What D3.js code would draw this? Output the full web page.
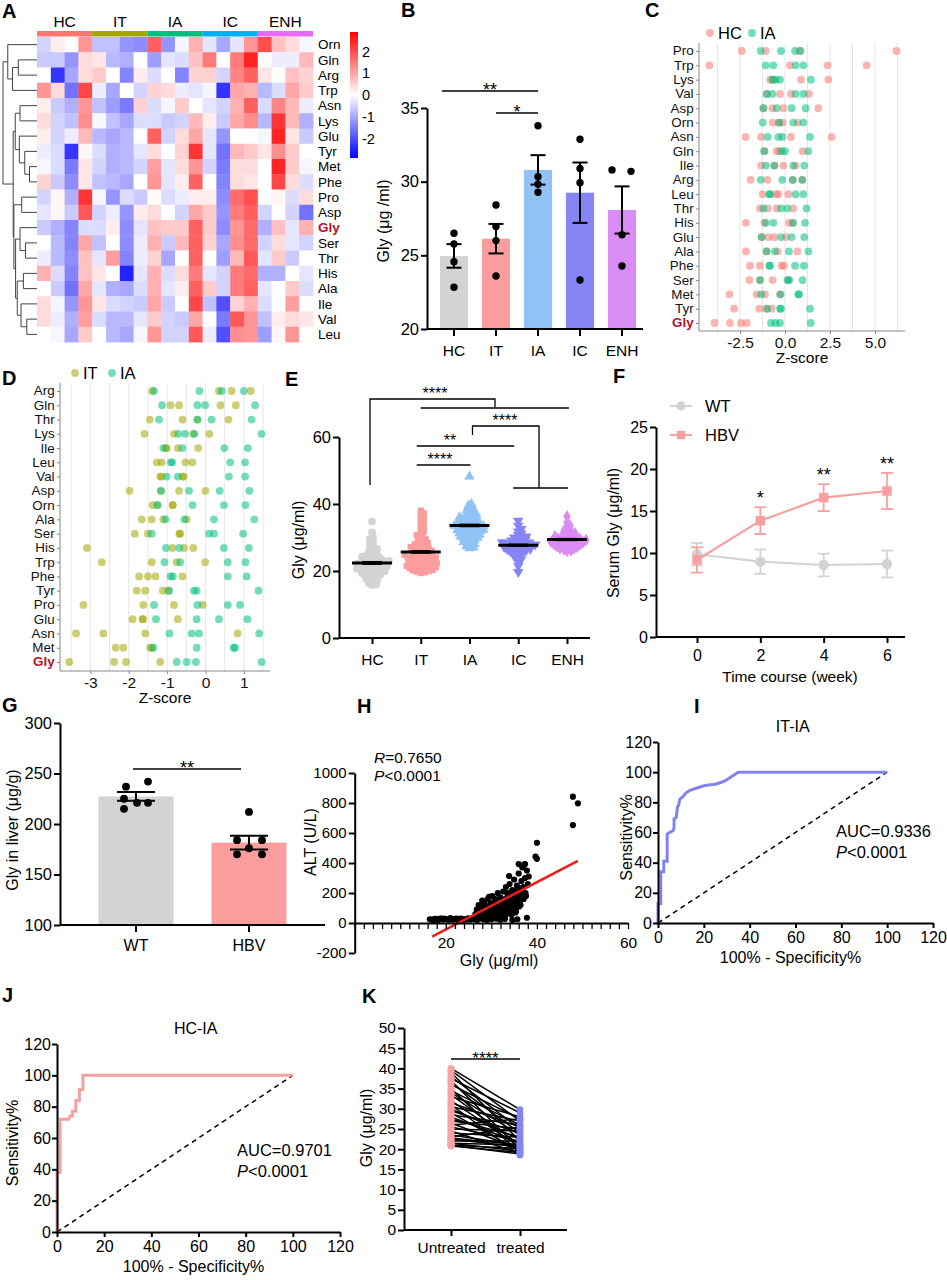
<!DOCTYPE html>
<html>
<head>
<meta charset="utf-8">
<script src="https://cdn.jsdelivr.net/npm/d3@7"></script>
<style>
body { margin: 0; background: #fff; }
svg { font-family: "Liberation Sans", Arial, Helvetica, sans-serif; }
</style>
</head>
<body>
<svg width="947" height="1280"></svg>
<script>
// ---------------- DATA ----------------
var groups = ['HC', 'IT', 'IA', 'IC', 'ENH'];
var groupColors = ['#d3d3d3', '#fb9d9d', '#90c2f6', '#8585f5', '#d98cf3'];
var annoColors = ['#F8766D', '#A3A500', '#00BF7D', '#00B0F6', '#E76BF3'];

// A heatmap
var hmRows = ['Orn','Gln','Arg','Trp','Asn','Lys','Glu','Tyr','Met','Phe','Pro','Asp','Gly','Ser','Thr','His','Ala','Ile','Val','Leu'];
var hmValues = [
  [-0.5,0.2,0,1.2,-0.7,-0.7,-1.2,-1.3,1.8,-1.2,-0.1,0.9,-0.3,-1.0,-0.3,1.2,2.0,0.7,0.4,-0.1],
  [-0.6,-0.6,-1.2,0.4,0.3,-0.8,-0.9,0,-1.1,-0.3,-0.4,0.7,1.5,0,1.5,2.5,0,-0.2,-0.2,0.8],
  [0,-2.3,-1.0,0.4,0.6,0,-1.4,0.2,-0.4,0,-1.4,0.5,0.5,-0.5,1.4,1.8,0.3,0,0.7,0.5],
  [1.2,0.4,-1.6,2.1,-0.2,-1.0,0,-0.5,0.5,0.4,-0.2,-0.3,-0.1,-2.3,1.0,0.9,-0.8,-0.4,1.0,0.6],
  [0.2,-0.6,-0.9,1.2,-0.7,-1.1,-1.5,0.5,-0.4,-0.1,0.6,0,-0.3,-0.5,0.9,1.8,-0.4,1.4,0.8,-0.2],
  [0.4,-0.5,-0.7,1.3,-0.1,-0.7,-1.0,-0.4,-0.4,-0.6,-0.5,0.8,0.2,-0.6,1.0,1.3,-0.8,2.3,0.8,-0.9],
  [0.2,-0.5,-0.2,0.8,-0.8,-1.0,-0.8,0,1.8,-0.5,0.4,1.0,-0.3,-1.2,0,0,-0.1,2.5,0.3,-0.6],
  [-0.2,-0.4,-2.3,0.1,-0.4,-0.9,-0.8,-0.3,0.4,0,0.5,2.3,-0.3,-1.6,0.8,0.6,0.3,1.3,0.6,0],
  [-0.1,-0.4,-1.5,0.3,-0.5,-0.9,-0.8,-0.5,1.1,-0.3,0.4,1.2,-0.5,-1.5,0.4,0.4,0,2.5,0.6,-0.1],
  [0.5,-0.6,-1.3,0.3,-0.7,-0.8,-1.0,0,1.2,-0.3,0.2,1.8,0,-1.4,0.4,0.3,0,2.1,0.4,-0.4],
  [-0.5,0.1,-0.9,2.3,-0.1,-1.2,-0.4,-0.6,0.05,-0.4,-0.2,0.2,0.2,-1.3,1.7,2.0,0,0.1,-0.4,0.4],
  [-0.3,0.1,-0.6,1.9,-0.5,-0.2,-1.2,0.2,0.4,0,-0.5,1.0,0.6,-1.2,1.5,1.8,-0.5,0,-0.5,-1.6],
  [-0.6,-0.9,-1.4,-0.4,-0.4,0.2,-1.3,-0.3,0.7,0.6,0.6,1.8,0.6,-1.3,1.2,1.7,-0.9,0.7,-0.3,0.9],
  [0,-0.8,-1.4,1.0,-0.7,0,-1.3,-0.2,0.9,-0.6,0.8,1.8,0.5,-1.0,1.3,1.7,-0.5,0.4,-0.3,-0.5],
  [-0.2,-0.8,-1.3,0.7,-0.3,1.1,-1.4,-0.2,0.5,-1.0,0,1.8,0,-1.1,0.8,1.9,-0.3,0.6,-0.6,0],
  [0.9,-0.4,-1.4,0.7,0.3,0,-2.5,-0.3,0.9,-0.4,0.4,1.5,-0.3,-0.5,1.5,1.7,-0.9,-0.9,0,-0.3],
  [0,-0.6,-1.6,1.0,-0.3,-0.9,-1.0,-0.4,0.9,-0.3,0.2,1.8,0.6,-0.5,1.5,1.8,-0.3,0,0.6,-0.4],
  [0.4,-0.1,-1.2,1.2,0.3,-0.4,-0.5,-0.6,1.0,-0.6,0,2.1,-0.7,-2.0,0.5,0.9,-0.4,0,1.1,0],
  [0.4,-0.2,-0.9,1.1,-0.4,-0.8,-0.8,-0.3,0.6,-0.5,-0.6,1.0,0,-1.5,1.9,1.2,-0.7,0.2,0.4,0.3],
  [0,-0.1,-1.0,0.6,0,-0.8,-1.0,-0.1,1.2,-0.5,-0.5,1.9,-0.2,-2.0,1.3,1.2,-1.1,0.1,1.2,0]
];
var legendTicks = [2, 1, 0, -1, -2];
// row dendrogram (merge heights 0..1)
var dendro = {h: 1, children: [
  {h: 0.86, children: [{name: 'Orn'}, {h: 0.72, children: [{h: 0.55, children: [{name: 'Gln'}, {name: 'Arg'}]}, {name: 'Trp'}]}]},
  {h: 0.7, children: [
    {h: 0.64, children: [{h: 0.5, children: [{name: 'Asn'}, {name: 'Lys'}]},
      {h: 0.52, children: [{name: 'Glu'}, {h: 0.36, children: [{name: 'Tyr'}, {h: 0.22, children: [{name: 'Met'}, {name: 'Phe'}]}]}]}]},
    {h: 0.68, children: [{h: 0.45, children: [{name: 'Pro'}, {name: 'Asp'}]},
      {h: 0.63, children: [{h: 0.5, children: [{name: 'Gly'}, {h: 0.34, children: [{name: 'Ser'}, {name: 'Thr'}]}]},
        {h: 0.58, children: [{h: 0.4, children: [{name: 'His'}, {name: 'Ala'}]},
          {h: 0.47, children: [{name: 'Ile'}, {h: 0.3, children: [{name: 'Val'}, {name: 'Leu'}]}]}]}]}]}
  ]}
]};

// B bars
var bMeans = [24.96, 26.13, 30.8, 29.25, 28.08];
var bSem = [0.8, 1.0, 1.0, 2.05, 1.6];
var bPoints = [[26.5, 25.77, 24.57, 22.83], [28.42, 26.95, 26.0, 23.6], [33.8, 30.34, 29.82, 29.28], [32.88, 30.9, 29.93, 23.33], [30.8, 30.7, 26.4, 24.28]];
var bOffsets = [[0, 0, 0, 0], [0, 0, 0, 0], [0, 0, 0, 0], [0, 0, 0, 0], [-10, 9, 0, 0]];

// C dot plot HC vs IA
var cRows = ['Pro','Trp','Lys','Val','Asp','Orn','Asn','Gln','Ile','Arg','Leu','Thr','His','Glu','Ala','Phe','Ser','Met','Tyr','Gly'];
var cHC = [
  [-2.4,-1.07,0.8,6.2],[-4.2,0.28,2.37,4.54],[-0.83,-0.65,0.89,2.41],[-1.0,-0.28,0.33,1.33],[-1.2,-0.7,-0.09,1.85],
  [-0.69,-0.37,-0.13,0.7],[-2.19,-1.33,0.33,2.59],[-1.15,-0.46,-0.31,0.98],[-1.33,-0.59,-0.09,0.59],[-1.91,-0.98,0.43,0.96],
  [-1.24,-0.5,-0.37,0.19],[-1.39,-0.96,-0.46,0.46],[-2.17,-1.15,0.22,0.41],[-1.3,-0.93,-0.59,0.06],[-2.17,-1.02,-0.41,0.69],
  [-1.94,-1.39,-0.19,-0.06],[-1.98,-1.39,-0.69,0.19],[-3.09,-1.57,-1.11,-0.28],[-2.83,-1.43,-1.07,-0.74],[-3.92,-3.06,-2.44,-2.13]
];
var cIA = [
  [-1.35,-0.22,0.56,0.87],[-1.07,-0.65,0.59,1.02],[-0.7,-0.52,-0.28,1.44],[-1.02,-0.7,0.59,1.02],[-1.2,-0.46,0.37,1.15],
  [-1.24,-0.31,0.46,1.02],[-0.96,-0.37,-0.15,1.39],[-1.15,-0.19,0,1.3],[-1.06,-0.59,0.46,1.07],[-1.35,-0.15,0.43,0.96],
  [-0.87,-0.83,0.59,1.02],[-1.2,-0.22,0.13,1.2],[-1.06,-0.65,0.46,1.11],[-1.3,-0.22,0.37,1.07],[-1.02,-0.56,0.22,1.3],
  [-0.87,-0.83,0.56,1.05],[-1.39,0.13,0.24,0.98],[-1.33,-0.24,0.74,0.78],[-0.98,-0.28,-0.22,1.39],[-0.78,-0.52,-0.28,1.43]
];
var cTicks = [-2.5, 0, 2.5, 5];

// D dot plot IT vs IA
var dRows = ['Arg','Gln','Thr','Lys','Ile','Leu','Val','Asp','Orn','Ala','Ser','His','Trp','Phe','Tyr','Pro','Glu','Asn','Met','Gly'];
var dIT = [
  [-1.39,0.35,0.68,1.18],[-0.91,-0.69,0.39,0.79],[-1.45,-0.6,-0.21,0.6],[-1.59,-0.82,-0.32,0.1],[-1.03,-1.01,-0.72,-0.19],
  [-1.27,-1.14,-0.52,-0.34],[-1.18,-1.14,-0.6,-0.57],[-1.98,-1.16,-0.69,0],[-1.38,-1.25,-0.86,-0.85],[-1.66,-1.4,-1.1,-0.49],
  [-1.84,-1.5,-0.68,-0.66],[-3.09,-0.86,-0.56,-0.32],[-2.7,-1.4,-0.75,-0.01],[-1.73,-1.5,-1.3,-0.6],[-1.79,-1.57,-1.11,-0.97],
  [-3.18,-1.62,-0.82,-0.07],[-1.9,-1.64,-1.63,-0.72],[-3.37,-2.66,-1.57,0.84],[-2.34,-2.14,-1.44,-1.4],[-3.55,-2.38,-2.07,-1.18]
];
var dIA = [
  [-1.34,-0.16,0.42,1.0],[-1.13,-0.21,-0.01,1.29],[-1.21,-0.21,0.16,1.2],[-0.71,-0.53,-0.29,1.46],[-1.1,-0.6,0.49,1.1],
  [-0.9,-0.87,0.64,1.03],[-1.01,-0.72,0.61,1.03],[-1.16,-0.43,0.37,1.14],[-1.25,-0.34,0.48,1.04],[-1.04,-0.55,0.22,1.27],
  [-1.4,0.09,0.22,0.98],[-1.03,-0.68,0.48,1.13],[-1.07,-0.66,0.58,1.04],[-0.91,-0.85,0.58,1.07],[-0.95,-0.3,-0.23,1.38],
  [-1.34,-0.21,0.58,0.9],[-1.29,-0.23,0.35,1.09],[-0.94,-0.36,-0.17,1.4],[-1.36,-0.23,0.73,0.77],[-0.75,-0.49,-0.25,1.46]
];
var dTicks = [-3, -2, -1, 0, 1];

// E scatter (individual patients)
var eHC = [34.8,31.5,30.2,29.5,28.8,28.1,27.5,27,26.6,26.2,25.8,25.4,25.1,24.8,24.5,24.2,24,23.7,23.5,23.3,23.1,22.9,22.7,22.5,22.3,22.1,22,21.8,21.6,21.5,21.3,21.1,21,20.8,20.6,20.5,20.3,20.1,20,19.8,19.6,19.5,19.3,19.1,18.9,18.7,18.5,18.2,18,17.7,17.4,17.1,16.8,16.4,16,15.8,22.4,23,21.9,20.7,24.3,22.6,21.2,19.9];
var eIT = [38,37.2,36.5,35.8,35,34.3,33.6,33,32.4,31.8,31.2,30.7,30.2,29.8,29.4,29,28.6,28.3,28,27.7,27.4,27.1,26.8,26.6,26.4,26.2,26,25.8,25.6,25.4,25.2,25,24.8,24.6,24.4,24.2,24,23.8,23.6,23.4,23.2,23,22.8,22.6,22.4,22.2,22,21.8,21.6,21.4,21.2,21,20.8,20.6,20.4,20.2,20,19.8,19.6,19.4,25.1,24.7,23.9,22.9,22.3,21.5,20.9,20.3,26.9,27.9,24.1,23.3,22.1,21.1];
var eIA = [48.2,40,39.5,39,38.5,38,37.6,37.2,36.8,36.5,36.2,35.9,35.6,35.3,35,34.8,34.5,34.3,34.1,33.9,33.7,33.5,33.3,33.1,32.9,32.7,32.5,32.3,32.1,31.9,31.7,31.5,31.3,31.1,30.9,30.7,30.5,30.3,30.1,29.9,29.6,29.3,29,28.7,28.4,28.1,27.8,27.4,27,26.8,34,33.2,32.6,31.8,35.4,36,30.8,29.8,33.4,32.2];
var eIC = [35,33.5,32.5,31.8,31.2,30.7,30.3,29.9,29.6,29.3,29,28.8,28.6,28.4,28.2,28,27.8,27.6,27.4,27.2,27,26.8,26.6,26.4,26.2,26,25.7,25.4,25.1,24.8,24.4,24,23.5,22.8,21.5,19.7,27.9,27.5,28.1,26.9,28.5,27.1,29.1,26.5,30,25.9];
var eENH = [36.3,34.5,33.6,33,32.5,32,31.6,31.2,30.9,30.6,30.3,30,29.8,29.6,29.4,29.2,29,28.8,28.6,28.4,28.2,28,27.8,27.6,27.4,27.2,27,26.8,26.5,26.2,26,29.5,29.1,28.7,28.3,27.9,30.1,29.3,28.9,28.5,31,27.5,26.7];
var eMeans = [22.4, 25.7, 33.6, 27.7, 29.4];
var eSem = [0.6, 0.55, 0.55, 0.5, 0.5];

// F time course
var fWeeks = [0, 2, 4, 6];
var fWtMean = [9.85, 8.97, 8.57, 8.69];
var fWtSem = [1.35, 1.45, 1.35, 1.6];
var fHbvMean = [9.17, 13.85, 16.59, 17.38];
var fHbvSem = [1.5, 1.6, 1.6, 2.15];
var fStars = ['', '*', '**', '**'];

// G liver Gly
var gGroups = ['WT', 'HBV'];
var gMeans = [227.3, 181.6];
var gSem = [4.3, 6.8];
var gPoints = [[242, 237, 225, 221, 221, 215], [212, 184, 184, 176, 170, 170]];
var gOffsets = [[12, -10, -12, 1, 12, -12], [0, -12, 13, 0, -12, 13]];

// H correlation ALT vs Gly
var hGly = [16.5,17,17.6,18.2,18.8,19.4,20,20.5,21,21.6,22.1,22.7,23.2,23.8,24.3,24.9,25.4,26,26.5,27,17.3,19,20.8,22.4,24,25.7,
  26.5,26.8,27,27.2,27.4,27.6,27.8,28,28.2,28.4,28.6,28.8,29,29.2,29.4,29.6,29.8,30,30.2,30.4,30.6,30.8,31,31.2,31.4,31.6,31.8,32,32.2,32.4,32.6,32.8,33,33.2,33.4,33.6,33.8,34,34.2,34.4,34.6,34.8,35,35.2,35.4,35.6,35.8,36,36.2,36.4,36.6,36.8,37,37.2,37.4,37.6,37.8,38,38.2,
  29,30,31,32,33,34.6,35.7,37.8,28,29.5,30.5,31.5,32.5,33.5,34.5,35.5,36.5,37.5,27.5,28.5,29.5,30.5,31.5,32.5,33.5,34.5,35.5,36.5,33.9,36,37.4,
  28.9,30.3,31.7,32.9,34.1,35.1,36.1,29.7,31.1,32.3,33.1,34.3,
  27.1,27.9,28.3,28.7,29.3,29.9,30.1,30.7,31.3,31.9,32.1,32.7,33.3,33.7,34.4,34.9,35.3,35.9,36.3,36.9,
  27.3,28.1,28.9,29.6,30.4,31.2,31.6,32.4,33.2,33.9,34.7,35.4,36.7,37.1,26.9,27.7,28.5,29.1,30.9,31.8,
  17.9,18.5,19.7,21.3,22.9,23.5,25.1,26.2,
  40,39.7,40,47.9,49,47.9];
var hAlt = [25,22,28,20,30,24,26,21,32,23,27,19,29,25,22,31,24,27,33,35,18,29,24,30,21,26,
  60,90,45,120,75,30,100,55,140,80,40,110,65,160,95,35,130,70,180,50,115,85,150,40,200,100,60,170,125,45,210,90,140,240,70,180,110,260,150,55,220,130,290,190,80,250,160,330,210,120,280,370,240,390,300,180,350,260,310,
  20,25,30,22,28,20,25,35,150,60,140,80,155,95,190,140,230,200,85,125,175,100,120,75,200,100,220,170,313,393,393,
  45,60,85,50,75,95,110,30,40,120,160,205,
  35,70,25,55,85,45,105,65,30,95,55,130,60,165,90,115,70,200,145,180,
  50,110,40,75,135,60,90,115,80,125,170,110,205,160,20,40,65,100,160,85,
  27,23,29,26,22,28,25,30,
  535,442,428,842,798,653];
var hRegSlope = 15.8, hRegIntercept = -360, hRegRange = [17, 49];

// I, J ROC curves
var iFpr = [0,0,1.2,1.2,2.5,2.5,4,4,5,6.5,7,7,8,8.5,9,9.5,11,12,13,14,16,18,20,22,25,27,29,30,32,34,35,100];
var iTpr = [0,13,13,34,34,41,41,59,60,61,63,69,70,77,78,82,84,86,87,88,89,90,91,91.5,92,93,94,95,97,99,100,100];
var jFpr = [0,0,1.3,1.3,5,5.5,6.5,6.5,8,8,9.5,9.5,11,11,100];
var jTpr = [0,38,38,72,72,74,74,77,77,84,84,91,91,100,100];
var rocTicks = [0, 20, 40, 60, 80, 100, 120];

// K paired samples
var kGroups = ['Untreated', 'treated'];
var kUntreated = [40,39.5,39,38,37.5,37,36.5,36,35,34.5,34,33.5,33,32,31.5,31,30.5,30,29.5,29,28.5,28,27.5,27,26.5,26,25.5,25,24.5,24,23.5,23,22.5,22,21.5,21.5,21,21,20.8,22.8];
var kTreated = [29.8,27,22,25,29,20,24,27.5,19,26,23.5,21,28,20.5,25.5,18.5,27,22.5,24,19.5,26,21.5,23,25,20,27.5,22,24.5,19,23,21,25.5,20.5,22,19.5,21,18.8,20.2,19.2,21];

// ---------------- HELPERS ----------------
var svg = d3.select('svg');

function panelLetter(t, x, y) {
  svg.append('text').attr('x', x).attr('y', y).attr('font-size', 20).attr('font-weight', 'bold').text(t);
}
function gpStyle(g, fs) {
  g.selectAll('.domain').attr('stroke', '#000').attr('stroke-width', 2);
  g.selectAll('.tick line').attr('stroke', '#000').attr('stroke-width', 2);
  g.selectAll('.tick text').attr('font-size', fs || 15).attr('fill', '#000').attr('font-family', null);
  return g;
}
function vLabel(t, x, y, fs) {
  svg.append('text').attr('transform', 'translate(' + x + ',' + y + ') rotate(-90)')
    .attr('text-anchor', 'middle').attr('dy', '0.35em').attr('font-size', fs || 15.5).text(t);
}
function hText(t, x, y, fs, anchor) {
  return svg.append('text').attr('x', x).attr('y', y).attr('text-anchor', anchor || 'middle')
    .attr('font-size', fs || 15.5).text(t);
}
function errBar(g, x, y1, y2, cap, w) {
  g.append('line').attr('x1', x).attr('x2', x).attr('y1', y1).attr('y2', y2).attr('stroke', '#000').attr('stroke-width', w || 2);
  [y1, y2].forEach(function(yy) {
    g.append('line').attr('x1', x - cap / 2).attr('x2', x + cap / 2).attr('y1', yy).attr('y2', yy).attr('stroke', '#000').attr('stroke-width', w || 2);
  });
}
function sigLine(x1, x2, y, txt, fs) {
  svg.append('line').attr('x1', x1).attr('x2', x2).attr('y1', y).attr('y2', y).attr('stroke', '#000').attr('stroke-width', 1.5);
  hText(txt, (x1 + x2) / 2, y + 5, fs || 18);
}

// ---------------- A: HEATMAP ----------------
var hmX = d3.scaleBand().domain(d3.range(20)).range([37, 313]);
var hmY = d3.scaleBand().domain(hmRows).range([37, 342]);
var hmColor = d3.scaleLinear().domain([-2.9, 0, 2.9]).range(['#0000ff', '#ffffff', '#ff0000']);

var gA = svg.append('g');
hmValues.forEach(function(row, ri) {
  gA.selectAll(null).data(row).enter().append('rect')
    .attr('x', function(d, ci) { return hmX(ci); })
    .attr('y', hmY(hmRows[ri]))
    .attr('width', hmX.bandwidth() + 0.4)
    .attr('height', hmY.bandwidth() + 0.4)
    .attr('fill', function(d) { return hmColor(d); });
});
groups.forEach(function(gname, gi) {
  var x0 = hmX(gi * 4), x1 = hmX(gi * 4 + 3) + hmX.bandwidth();
  gA.append('rect').attr('x', x0).attr('y', 31).attr('width', x1 - x0).attr('height', 5.5).attr('fill', annoColors[gi]);
  gA.append('text').attr('x', (x0 + x1) / 2).attr('y', 27).attr('text-anchor', 'middle').attr('font-size', 15.5).text(gname);
});
gA.selectAll('.rowlab').data(hmRows).enter().append('text')
  .attr('x', 318).attr('y', function(d) { return hmY(d) + hmY.bandwidth() / 2; })
  .attr('dy', '0.36em').attr('font-size', 13.5)
  .attr('fill', function(d) { return d === 'Gly' ? '#b5122a' : '#000'; })
  .attr('font-weight', function(d) { return d === 'Gly' ? 'bold' : 'normal'; })
  .text(function(d) { return d; });
// dendrogram
var root = d3.hierarchy(dendro);
var dX = d3.scaleLinear().domain([0, 1]).range([37, 3]);
root.eachAfter(function(n) {
  if (!n.children) { n.py = hmY(n.data.name) + hmY.bandwidth() / 2; n.ph = 0; }
  else { n.py = (n.children[0].py + n.children[n.children.length - 1].py) / 2; n.ph = n.data.h; }
});
root.each(function(n) {
  if (!n.children) return;
  gA.append('line').attr('x1', dX(n.ph)).attr('x2', dX(n.ph))
    .attr('y1', n.children[0].py).attr('y2', n.children[n.children.length - 1].py)
    .attr('stroke', '#444').attr('stroke-width', 1);
  n.children.forEach(function(c) {
    gA.append('line').attr('x1', dX(n.ph)).attr('x2', dX(c.ph)).attr('y1', c.py).attr('y2', c.py)
      .attr('stroke', '#444').attr('stroke-width', 1);
  });
});
// colour legend
var defs = svg.append('defs');
var grad = defs.append('linearGradient').attr('id', 'hmgrad').attr('x1', 0).attr('x2', 0).attr('y1', 1).attr('y2', 0);
[-2.9, 0, 2.9].forEach(function(v, i) {
  grad.append('stop').attr('offset', (i * 50) + '%').attr('stop-color', hmColor(v));
});
var legY = d3.scaleLinear().domain([-2.9, 2.9]).range([158, 32]);
gA.append('rect').attr('x', 350).attr('y', 32).attr('width', 8).attr('height', 126).attr('fill', 'url(#hmgrad)');
gA.selectAll('.legt').data(legendTicks).enter().append('text')
  .attr('x', 362).attr('y', function(d) { return legY(d); }).attr('dy', '0.36em').attr('font-size', 14.5)
  .text(function(d) { return String(d); });
panelLetter('A', 2, 18);

// ---------------- B: BARS ----------------
var bX = d3.scaleBand().domain(groups).range([433, 643]).paddingInner(0.33).paddingOuter(0.165);
var bY = d3.scaleLinear().domain([20, 35]).range([329, 108]);
var gB = svg.append('g');
gB.selectAll('.bar').data(bMeans).enter().append('rect')
  .attr('x', function(d, i) { return bX(groups[i]); })
  .attr('y', function(d) { return bY(d); })
  .attr('width', bX.bandwidth())
  .attr('height', function(d) { return bY(20) - bY(d); })
  .attr('fill', function(d, i) { return groupColors[i]; });
bMeans.forEach(function(m, i) {
  var cx = bX(groups[i]) + bX.bandwidth() / 2;
  errBar(gB, cx, bY(m + bSem[i]), bY(m - bSem[i]), 15, 2);
  bPoints[i].forEach(function(v, j) {
    gB.append('circle').attr('cx', cx + bOffsets[i][j]).attr('cy', bY(v)).attr('r', 3.7).attr('fill', '#000');
  });
});
var bAxY = svg.append('g').attr('transform', 'translate(427,0)')
  .call(d3.axisLeft(bY).tickValues([20, 25, 30, 35]).tickSize(6).tickSizeOuter(0).tickPadding(2));
gpStyle(bAxY, 16.5);
var bAxX = svg.append('g').attr('transform', 'translate(0,329)')
  .call(d3.axisBottom(bX).tickSize(7).tickSizeOuter(0).tickPadding(9));
gpStyle(bAxX, 15.5);
bAxX.select('.domain').attr('d', 'M427,0H643');
vLabel('Gly (μg /ml)', 383, 221, 16);
sigLine(bX('HC') + 2, bX('IA') + bX.bandwidth() / 2, 91, '**');
sigLine(bX('IT') + bX.bandwidth() / 2, bX('IA') + bX.bandwidth() / 2, 113, '*');
panelLetter('B', 401, 17);

// ---------------- C / D: DOT PLOTS ----------------
function dotPlot(opt) {
  var g = svg.append('g');
  var x = d3.scaleLinear().domain(opt.xdom).range(opt.xr);
  var y = d3.scalePoint().domain(opt.rows).range(opt.yr);
  var gl = [];
  for (var v = Math.ceil(opt.xdom[0] / opt.minor) * opt.minor; v <= opt.xdom[1]; v += opt.minor) gl.push(v);
  g.selectAll('.grid').data(gl).enter().append('line')
    .attr('x1', function(d) { return x(d); }).attr('x2', function(d) { return x(d); })
    .attr('y1', opt.top).attr('y2', opt.axisY).attr('stroke', '#e6e6e6').attr('stroke-width', 1);
  var ax = g.append('g').attr('transform', 'translate(0,' + opt.axisY + ')')
    .call(d3.axisBottom(x).tickValues(opt.ticks).tickSize(3).tickSizeOuter(0).tickPadding(3).tickFormat(opt.fmt));
  ax.selectAll('.domain, .tick line').attr('stroke', '#888');
  ax.selectAll('.tick text').attr('font-size', 15.5).attr('fill', '#111').attr('font-family', null);
  ax.select('.domain').attr('d', 'M' + opt.xr[0] + ',0H' + opt.xr[1]);
  var ay = g.append('g').attr('transform', 'translate(' + opt.xr[0] + ',0)')
    .call(d3.axisLeft(y).tickSize(3).tickSizeOuter(0).tickPadding(2));
  ay.select('.domain').attr('d', 'M0,' + opt.top + 'V' + opt.axisY);
  ay.selectAll('.domain, .tick line').attr('stroke', '#888');
  ay.selectAll('.tick text').attr('font-size', 12.4).attr('font-family', null)
    .attr('transform', 'scale(1.08,1)')
    .attr('fill', function(d) { return d === 'Gly' ? '#b5122a' : '#111'; })
    .attr('font-weight', function(d) { return d === 'Gly' ? 'bold' : 'normal'; });
  [opt.a, opt.b].forEach(function(set, si) {
    set.forEach(function(vals, ri) {
      g.selectAll(null).data(vals).enter().append('circle')
        .attr('cx', function(d) { return x(d); }).attr('cy', y(opt.rows[ri])).attr('r', 3.9)
        .attr('fill', opt.colors[si]).attr('fill-opacity', 0.55);
    });
  });
  hText('Z-score', (opt.xr[0] + opt.xr[1]) / 2, opt.axisY + 32, 15.5);
  opt.legend.forEach(function(l, i) {
    g.append('circle').attr('cx', l.x).attr('cy', opt.legY).attr('r', 3.9).attr('fill', opt.colors[i]).attr('fill-opacity', 0.55);
    g.append('text').attr('x', l.x + 8).attr('y', opt.legY).attr('dy', '0.36em').attr('font-size', 16.5).text(l.t);
  });
}
dotPlot({rows: cRows, a: cHC, b: cIA, colors: ['#F8766D', '#00BF7D'], xdom: [-4.78, 6.67], xr: [699, 905],
  yr: [51, 323], top: 43, axisY: 331, ticks: cTicks, minor: 1.25, fmt: function(d) { return d.toFixed(1); },
  legend: [{x: 710, t: 'HC'}, {x: 752, t: 'IA'}], legY: 33});
panelLetter('C', 645, 17);

dotPlot({rows: dRows, a: dIT, b: dIA, colors: ['#A3A500', '#00BF7D'], xdom: [-3.79, 1.68], xr: [60, 270],
  yr: [391, 662], top: 383, axisY: 671, ticks: dTicks, minor: 0.5, fmt: function(d) { return String(d); },
  legend: [{x: 75, t: 'IT'}, {x: 112, t: 'IA'}], legY: 373});
panelLetter('D', 2, 385);

// ---------------- E: SCATTER ----------------
var eX = d3.scalePoint().domain(groups).range([372, 567]);
var eY = d3.scaleLinear().domain([0, 60]).range([638, 437]);
var eSets = [eHC, eIT, eIA, eIC, eENH];
var eShapes = [d3.symbolCircle, d3.symbolSquare, d3.symbolTriangle, d3.symbolTriangle, d3.symbolDiamond];
var gE = svg.append('g');
function swarm(vals, cx, d) {
  var pts = vals.map(function(v) { return {v: v, y: eY(v)}; }).sort(function(a, b) { return a.v - b.v; });
  var placed = [];
  pts.forEach(function(p) {
    for (var k = 0; k < 200; k++) {
      var off = k === 0 ? 0 : (k % 2 ? 1 : -1) * Math.ceil(k / 2);
      var ok = placed.every(function(q) { var dx = q.x - (cx + off), dy = q.y - p.y; return dx * dx + dy * dy >= d * d; });
      if (ok) { p.x = cx + off; placed.push(p); break; }
    }
  });
  return placed;
}
eSets.forEach(function(vals, i) {
  var pts = swarm(vals, eX(groups[i]), 3.4);
  gE.selectAll(null).data(pts).enter().append('path')
    .attr('d', d3.symbol().type(eShapes[i]).size(i === 1 ? 40 : 48))
    .attr('transform', function(p) { return 'translate(' + p.x + ',' + p.y + ')' + (i === 3 ? ' rotate(180)' : ''); })
    .attr('fill', groupColors[i]);
  var cx = eX(groups[i]);
  gE.append('line').attr('x1', cx - 20).attr('x2', cx + 20).attr('y1', eY(eMeans[i])).attr('y2', eY(eMeans[i]))
    .attr('stroke', '#000').attr('stroke-width', 3);
  gE.append('rect').attr('x', cx - 10).attr('y', eY(eMeans[i] + eSem[i])).attr('width', 20)
    .attr('height', eY(eMeans[i] - eSem[i]) - eY(eMeans[i] + eSem[i])).attr('fill', '#000');
});
var eAxY = svg.append('g').attr('transform', 'translate(339,0)')
  .call(d3.axisLeft(eY).tickValues([0, 20, 40, 60]).tickSize(6).tickSizeOuter(0).tickPadding(2));
gpStyle(eAxY, 16.5);
var eAxX = svg.append('g').attr('transform', 'translate(0,638)')
  .call(d3.axisBottom(eX).tickSize(6).tickSizeOuter(0).tickPadding(10));
gpStyle(eAxX, 15.5);
eAxX.select('.domain').attr('d', 'M339,0H590');
vLabel('Gly (μg/ml)', 298, 540, 16);
function pl(pts) {
  svg.append('path').attr('d', d3.line()(pts)).attr('fill', 'none').attr('stroke', '#000').attr('stroke-width', 1.3);
}
var bx = function(g) { return eX(g); };
pl([[bx('HC') - 2, 485], [bx('HC') - 2, 399], [495, 399], [495, 407]]);
pl([[bx('IT'), 408], [bx('ENH') + 2, 408]]);
hText('****', 435, 399, 16);
pl([[bx('IA') + 3, 435], [bx('IA') + 3, 426], [539, 426], [539, 488]]);
pl([[bx('IC') - 5, 488], [bx('ENH') + 1, 488]]);
hText('****', 505, 426, 16);
pl([[bx('IT') - 4, 446], [bx('IC') - 4, 446]]);
hText('**', 450, 446, 16);
pl([[bx('IT') - 4, 465], [bx('IA') + 1, 465]]);
hText('****', 440, 465, 16);
panelLetter('E', 285, 386);

// ---------------- F: TIME COURSE ----------------
var fX = d3.scaleLinear().domain([0, 6]).range([697, 887]);
var fY = d3.scaleLinear().domain([0, 25]).range([637, 427]);
var gF = svg.append('g');
[{m: fWtMean, s: fWtSem, c: '#d3d3d3', sq: false}, {m: fHbvMean, s: fHbvSem, c: '#fa9f9f', sq: true}].forEach(function(ser) {
  fWeeks.forEach(function(w, i) {
    var x = fX(w);
    gF.append('line').attr('x1', x).attr('x2', x).attr('y1', fY(ser.m[i] + ser.s[i])).attr('y2', fY(ser.m[i] - ser.s[i]))
      .attr('stroke', ser.c).attr('stroke-width', 1.8);
    [ser.m[i] + ser.s[i], ser.m[i] - ser.s[i]].forEach(function(v) {
      gF.append('line').attr('x1', x - 6).attr('x2', x + 6).attr('y1', fY(v)).attr('y2', fY(v)).attr('stroke', ser.c).attr('stroke-width', 1.8);
    });
  });
  gF.append('path').datum(ser.m).attr('fill', 'none').attr('stroke', ser.c).attr('stroke-width', 2.2)
    .attr('d', d3.line().x(function(d, i) { return fX(fWeeks[i]); }).y(function(d) { return fY(d); }));
  gF.selectAll(null).data(ser.m).enter().append('path')
    .attr('d', d3.symbol().type(ser.sq ? d3.symbolSquare : d3.symbolCircle).size(ser.sq ? 90 : 85))
    .attr('transform', function(d, i) { return 'translate(' + fX(fWeeks[i]) + ',' + fY(d) + ')'; })
    .attr('fill', ser.c);
});
fStars.forEach(function(s, i) {
  if (s) hText(s, fX(fWeeks[i]), fY(fHbvMean[i] + fHbvSem[i]) - 3, 18);
});
var fAxY = svg.append('g').attr('transform', 'translate(656,0)')
  .call(d3.axisLeft(fY).tickValues([0, 5, 10, 15, 20, 25]).tickSize(6).tickSizeOuter(0).tickPadding(2));
gpStyle(fAxY, 16);
var fAxX = svg.append('g').attr('transform', 'translate(0,637)')
  .call(d3.axisBottom(fX).tickValues(fWeeks).tickSize(6).tickSizeOuter(0).tickPadding(7)
    .tickFormat(function(d) { return String(d); }));
gpStyle(fAxX, 16);
fAxX.select('.domain').attr('d', 'M656,0H905');
vLabel('Serum Gly (μg/ml)', 613, 533, 16);
hText('Time course (week)', 790, 682, 15.5);
[{t: 'WT', c: '#d3d3d3', y: 406, sq: false}, {t: 'HBV', c: '#fa9f9f', y: 435, sq: true}].forEach(function(l) {
  gF.append('line').attr('x1', 670).attr('x2', 692).attr('y1', l.y).attr('y2', l.y).attr('stroke', l.c).attr('stroke-width', 2);
  gF.append('path').attr('d', d3.symbol().type(l.sq ? d3.symbolSquare : d3.symbolCircle).size(70))
    .attr('transform', 'translate(681,' + l.y + ')').attr('fill', l.c);
  gF.append('text').attr('x', 705).attr('y', l.y).attr('dy', '0.36em').attr('font-size', 16.5).text(l.t);
});
panelLetter('F', 613, 383);

// ---------------- G: LIVER GLY ----------------
var gX = d3.scaleBand().domain(gGroups).range([79.5, 305.5]).paddingInner(0.336).paddingOuter(0.168);
var gY = d3.scaleLinear().domain([100, 300]).range([925, 723]);
var gG = svg.append('g');
gG.selectAll('.bar').data(gMeans).enter().append('rect')
  .attr('x', function(d, i) { return gX(gGroups[i]); }).attr('y', function(d) { return gY(d); })
  .attr('width', gX.bandwidth()).attr('height', function(d) { return gY(100) - gY(d); })
  .attr('fill', function(d, i) { return i === 0 ? '#d3d3d3' : '#fb9d9d'; });
gMeans.forEach(function(m, i) {
  var cx = gX(gGroups[i]) + gX.bandwidth() / 2;
  gPoints[i].forEach(function(v, j) {
    gG.append('circle').attr('cx', cx + gOffsets[i][j]).attr('cy', gY(v)).attr('r', 3.9).attr('fill', '#000');
  });
  errBar(gG, cx, gY(m + gSem[i]), gY(m - gSem[i]), 38, 2);
});
var gAxY = svg.append('g').attr('transform', 'translate(60,0)')
  .call(d3.axisLeft(gY).tickValues([100, 150, 200, 250, 300]).tickSize(6).tickSizeOuter(0).tickPadding(2));
gpStyle(gAxY, 16.5);
var gAxX = svg.append('g').attr('transform', 'translate(0,925)')
  .call(d3.axisBottom(gX).tickSize(7).tickSizeOuter(0).tickPadding(8));
gpStyle(gAxX, 16);
gAxX.select('.domain').attr('d', 'M60,0H325');
vLabel('Gly in liver (μg/g)', 12, 830, 16);
sigLine(133, 241, 769, '**');
panelLetter('G', 2, 712);

// ---------------- H: CORRELATION ----------------
var hX = d3.scaleLinear().domain([0, 60]).range([354.7, 628]);
var hY = d3.scaleLinear().domain([-200, 1000]).range([953, 773]);
var gH = svg.append('g');
gH.selectAll('circle').data(hGly).enter().append('circle')
  .attr('cx', function(d) { return hX(d); }).attr('cy', function(d, i) { return hY(hAlt[i]); })
  .attr('r', 3.1).attr('fill', '#000');
gH.append('line').attr('x1', hX(hRegRange[0])).attr('x2', hX(hRegRange[1]))
  .attr('y1', hY(hRegSlope * hRegRange[0] + hRegIntercept)).attr('y2', hY(hRegSlope * hRegRange[1] + hRegIntercept))
  .attr('stroke', '#ee1c1c').attr('stroke-width', 2.5);
var hAxY = svg.append('g').attr('transform', 'translate(354.7,0)')
  .call(d3.axisLeft(hY).tickValues([-200, 0, 200, 400, 600, 800, 1000]).tickSize(6).tickSizeOuter(0).tickPadding(2)
    .tickFormat(function(d) { return String(d); }));
gpStyle(hAxY, 15);
var hAxX = svg.append('g').attr('transform', 'translate(0,' + hY(0) + ')')
  .call(d3.axisBottom(hX).tickValues(d3.range(0, 61, 2)).tickSize(6).tickSizeOuter(0).tickPadding(8)
    .tickFormat(function(d) { return (d % 20 === 0 && d > 0) ? String(d) : ''; }));
gpStyle(hAxX, 15.5);
hAxX.selectAll('.tick line').attr('stroke-width', 1.3);
vLabel('ALT (U/L)', 310, 842, 16);
hText('Gly (μg/ml)', 499, 966, 16);
var rt = svg.append('text').attr('x', 374).attr('y', 763).attr('font-size', 15.5);
rt.append('tspan').attr('font-style', 'italic').text('R');
rt.append('tspan').text('=0.7650');
var pt = svg.append('text').attr('x', 374).attr('y', 781).attr('font-size', 15.5);
pt.append('tspan').attr('font-style', 'italic').text('P');
pt.append('tspan').text('<0.0001');
panelLetter('H', 357, 713);

// ---------------- I / J: ROC ----------------
function roc(opt) {
  var x = d3.scaleLinear().domain([0, 120]).range(opt.xr);
  var y = d3.scaleLinear().domain([0, 120]).range(opt.yr);
  var g = svg.append('g');
  g.append('line').attr('x1', x(0)).attr('y1', y(0)).attr('x2', x(100)).attr('y2', y(100))
    .attr('stroke', '#000').attr('stroke-width', 1.5).attr('stroke-dasharray', '5,4');
  g.append('path').datum(opt.fpr).attr('fill', 'none').attr('stroke', opt.color).attr('stroke-width', 3)
    .attr('d', d3.line().x(function(d) { return x(d); }).y(function(d, i) { return y(opt.tpr[i]); }));
  var ay = svg.append('g').attr('transform', 'translate(' + opt.xr[0] + ',0)')
    .call(d3.axisLeft(y).tickValues(rocTicks).tickSize(5).tickSizeOuter(0).tickPadding(1));
  gpStyle(ay, 16);
  var ax = svg.append('g').attr('transform', 'translate(0,' + opt.yr[0] + ')')
    .call(d3.axisBottom(x).tickValues(rocTicks).tickSize(5).tickSizeOuter(0).tickPadding(4));
  gpStyle(ax, 16);
  vLabel('Sensitivity%', opt.ylx, (opt.yr[0] + opt.yr[1]) / 2 + 5, 16);
  hText('100% - Specificity%', (opt.xr[0] + opt.xr[1]) / 2 - 5, opt.yr[0] + 40, 16);
  hText(opt.title, opt.xr[0] + (opt.xr[1] - opt.xr[0]) * 0.49, opt.yr[1] - 10, 16);
  hText(opt.auc, opt.aucX, opt.aucY, 16.5, 'start');
  var p = svg.append('text').attr('x', opt.aucX).attr('y', opt.aucY + 21).attr('font-size', 16.5);
  p.append('tspan').attr('font-style', 'italic').text('P');
  p.append('tspan').text('<0.0001');
}
roc({fpr: iFpr, tpr: iTpr, color: '#8282f2', xr: [658, 933], yr: [923, 742], ylx: 626,
  title: 'IT-IA', auc: 'AUC=0.9336', aucX: 836, aucY: 837});
panelLetter('I', 694, 713);
roc({fpr: jFpr, tpr: jTpr, color: '#f7a0a0', xr: [57, 340], yr: [1232, 1044], ylx: 12,
  title: 'HC-IA', auc: 'AUC=0.9701', aucX: 237, aucY: 1156});
panelLetter('J', 2, 1002);

// ---------------- K: PAIRED ----------------
var kX = d3.scalePoint().domain(kGroups).range([451, 520]);
var kY = d3.scaleLinear().domain([0, 50]).range([1230, 1028]);
var gK = svg.append('g');
kUntreated.forEach(function(v, i) {
  gK.append('line').attr('x1', kX('Untreated')).attr('x2', kX('treated')).attr('y1', kY(v)).attr('y2', kY(kTreated[i]))
    .attr('stroke', '#000').attr('stroke-width', 1.5);
});
gK.selectAll('.u').data(kUntreated).enter().append('circle')
  .attr('cx', kX('Untreated')).attr('cy', function(d) { return kY(d); }).attr('r', 3.5).attr('fill', '#f9a3a3');
gK.selectAll('.t').data(kTreated).enter().append('circle')
  .attr('cx', kX('treated')).attr('cy', function(d) { return kY(d); }).attr('r', 3.3).attr('fill', '#8585f2');
var kAxY = svg.append('g').attr('transform', 'translate(404,0)')
  .call(d3.axisLeft(kY).tickValues(d3.range(0, 51, 5)).tickSize(6).tickSizeOuter(0).tickPadding(2));
gpStyle(kAxY, 15.5);
var kAxX = svg.append('g').attr('transform', 'translate(0,1230)')
  .call(d3.axisBottom(kX).tickSize(6).tickSizeOuter(0).tickPadding(6));
gpStyle(kAxX, 15.5);
kAxX.select('.domain').attr('d', 'M404,0H567');
vLabel('Gly (μg/ml)', 366, 1128, 16);
sigLine(451, 520, 1059, '****', 17);
panelLetter('K', 362, 1003);
</script>
</body>
</html>
